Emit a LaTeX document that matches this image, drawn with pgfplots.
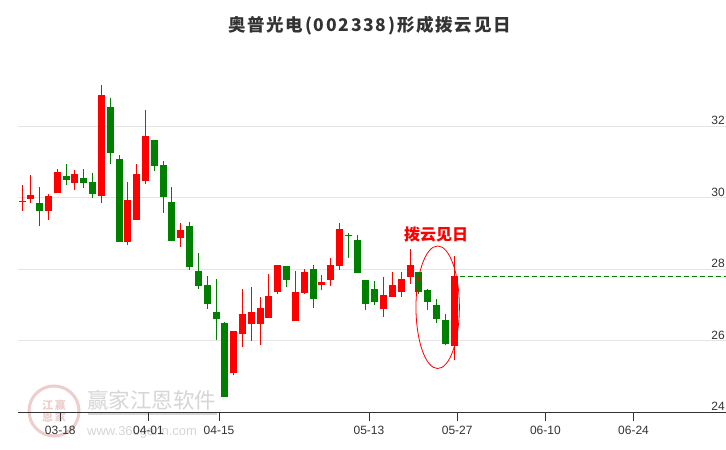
\documentclass[border=0pt]{standalone}
\usepackage{fontspec}
\setmainfont{Liberation Sans}
\newfontfamily\cjk{Noto Sans CJK SC}
\newfontfamily\cjkt[LetterSpace=10]{Noto Sans CJK SC}
\usepackage{pgfplots}
\usepackage{pgfplotstable}
\pgfplotsset{compat=1.18}
\definecolor{kred}{RGB}{255,0,0}
\definecolor{kgreen}{RGB}{0,128,0}
\definecolor{txt}{RGB}{51,51,51}
\definecolor{gridc}{RGB}{229,229,229}
\definecolor{wm}{RGB}{214,214,214}
\definecolor{wmred}{RGB}{238,205,205}

% i O H L C
\pgfplotstableread{
i O H L C
-4 29.88 30.35 29.63 29.91
-3 29.97 30.63 29.85 30.07
-1 29.63 30.10 29.38 30.04
0 30.13 30.80 30.13 30.71
2 30.41 30.77 30.22 30.66
5 30.05 33.15 29.85 32.87
8 28.76 30.43 28.68 29.93
9 29.38 30.95 29.38 30.66
10 30.47 32.45 30.39 31.72
14 28.88 29.29 28.62 29.09
20 25.08 26.27 25.03 26.27
21 26.19 27.44 25.83 26.74
22 26.45 27.50 25.99 26.80
23 26.47 27.22 25.88 26.91
24 26.64 27.87 26.64 27.24
25 27.37 28.11 27.31 28.11
27 26.55 27.94 26.55 27.36
28 27.34 28.00 27.31 27.92
30 27.54 27.83 27.42 27.64
31 27.70 28.31 27.53 28.11
32 28.09 29.29 27.98 29.12
37 26.88 27.78 26.66 27.27
38 27.23 27.92 27.23 27.55
39 27.36 27.92 27.23 27.72
40 27.78 28.56 27.59 28.11
45 25.85 28.37 25.46 27.80
}\redtab

\pgfplotstableread{
i O H L C
-2 29.85 30.29 29.21 29.63
1 30.59 30.95 30.36 30.50
3 30.55 30.80 30.27 30.41
4 30.43 30.69 29.99 30.11
6 32.53 32.78 30.95 31.25
7 31.08 31.19 28.76 28.76
11 31.61 31.61 30.75 30.89
12 30.91 31.02 29.57 30.02
13 29.87 30.29 28.79 28.79
15 29.20 29.31 27.98 28.06
16 27.94 28.46 27.45 27.53
17 27.55 27.80 26.89 27.01
18 26.80 27.72 26.01 26.59
19 26.48 26.52 24.43 24.43
26 28.08 28.08 27.50 27.70
29 28.00 28.11 26.92 27.17
33 28.96 29.00 28.32 28.93
34 28.81 28.95 27.90 27.90
35 27.69 27.69 26.86 27.03
36 27.44 27.67 27.00 27.09
41 27.92 27.92 27.31 27.35
42 27.41 27.44 26.86 27.07
43 26.99 27.16 26.50 26.61
44 26.58 26.75 25.87 25.90
}\greentab

\pgfplotsset{candle/.style={only marks, mark=*, mark size=0pt, mark options={draw=none, fill=none}}}

\begin{document}
\begin{tikzpicture}
\useasboundingbox (0,0) rectangle (726pt,450pt);
\fill[white] (0,0) rectangle (726pt,450pt);

% watermark
\draw[wmred, line width=3pt] (54pt,39pt) circle (25pt);
\node[wmred, font=\cjk\bfseries\fontsize{11}{11}\selectfont, align=center, inner sep=0pt] at (54pt,39pt) {江\,赢\\[1pt]恩\,家};
\node[wm, font=\cjk\fontsize{21.5}{21.5}\selectfont, anchor=west, inner sep=0pt] at (87pt,50pt) {赢家江恩软件};
\draw[wm, line width=1.5pt] (88pt,36pt) -- (217pt,36pt);
\node[wm, font=\fontsize{13}{13}\selectfont, anchor=west, inner sep=0pt] at (87pt,18pt) {www.360gann.com};

\begin{axis}[
  at={(18.3pt,38pt)}, anchor=south west,
  width=707.7pt, height=357.5pt, scale only axis,
  xmin=-4.42, xmax=75.82, ymin=24, ymax=34,
  axis x line*=bottom, axis y line*=right,
  x axis line style={-, draw=txt, line width=0.9pt},
  y axis line style={draw=none},
  ytick={24,26,28,30,32},
  yticklabels={},
  ytick style={draw=none},
  ymajorgrids, grid style={color=gridc, line width=0.9pt},
  xtick={0.34,10.34,18.34,35.34,45.34,55.34,65.34},
  xticklabels={03-18,04-01,04-15,05-13,05-27,06-10,06-24},
  xtick pos=bottom,
  tick align=outside, major tick length=9pt,
  xtick style={draw=txt, line width=0.9pt},
  xticklabel style={text=txt, font=\fontsize{12}{12}\selectfont, yshift=-2pt},
  clip=false,
]
% wicks
\addplot[candle, error bars/.cd, y dir=plus, y explicit, error mark=none,
  error bar style={line width=1pt, draw=kred}]
  table[x=i, y=L, y error plus expr=\thisrow{H}-\thisrow{L}] {\redtab};
\addplot[candle, error bars/.cd, y dir=plus, y explicit, error mark=none,
  error bar style={line width=1pt, draw=kgreen}]
  table[x=i, y=L, y error plus expr=\thisrow{H}-\thisrow{L}] {\greentab};
% bodies
\addplot[candle, error bars/.cd, y dir=plus, y explicit, error mark=none,
  error bar style={line width=7pt, draw=kred}]
  table[x=i, y=O, y error plus expr=\thisrow{C}-\thisrow{O}] {\redtab};
\addplot[candle, error bars/.cd, y dir=plus, y explicit, error mark=none,
  error bar style={line width=7pt, draw=kgreen}]
  table[x=i, y=C, y error plus expr=\thisrow{O}-\thisrow{C}] {\greentab};
% close level line
\addplot[kgreen, line width=0.9pt, dash pattern=on 5pt off 3pt] coordinates {(45.66,27.80) (75.82,27.80)};
\draw[kred, line width=0.8pt] (axis cs:43.13,26.93) ellipse [x radius=21.7pt, y radius=61.3pt];
% y tick labels (inside, above grid lines, right aligned)
\pgfplotsinvokeforeach{24,26,28,30,32}{
  \node[anchor=south east, inner sep=1pt, text=txt, font=\fontsize{12}{12}\selectfont] at (axis cs:75.82,#1) {#1};
}
\end{axis}

\node[txt, font=\cjkt\bfseries\fontsize{17.5}{17.5}\selectfont] at (369.5pt,424.5pt) {奥普光电(002338)形成拨云见日};
\node[kred, font=\cjk\bfseries\fontsize{16}{16}\selectfont] at (436pt,215pt) {拨云见日};
\end{tikzpicture}
\end{document}
